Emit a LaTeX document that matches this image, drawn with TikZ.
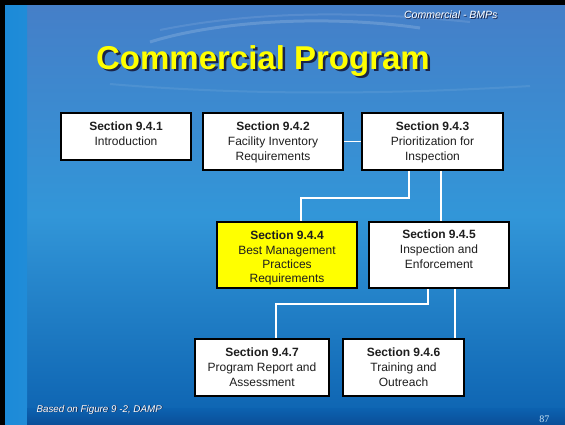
\documentclass[tikz,border=0pt]{standalone}
\usepackage{fontspec}
\setmainfont{Liberation Sans}
\newfontfamily\serifnum{Liberation Serif}
\usetikzlibrary{calc}
\definecolor{bgtop}{HTML}{457FC8}
\definecolor{bgmid}{HTML}{3296D8}
\definecolor{bgbot}{HTML}{0C62B0}
\definecolor{stripc}{HTML}{1C8AD8}
\definecolor{bandc}{HTML}{0A4E98}
\definecolor{titleyel}{HTML}{FFFF00}
\definecolor{shadowc}{HTML}{1A2448}
\definecolor{boxyel}{HTML}{FFFF00}
\definecolor{boxtext}{HTML}{1E1E1E}
\newcommand{\shadowtext}[3]{\makebox[0pt][l]{\raisebox{-#1}{\hspace{#1}\textcolor{shadowc}{#3}}}\textcolor{#2}{#3}}
\tikzset{
  secbox/.style={draw=black, line width=2pt, fill=white, inner sep=0pt},
  sectext/.style={align=center, text=boxtext, font=\fontsize{12}{14.8}\selectfont, inner sep=0pt, anchor=north},
  conn/.style={draw=white, line width=1.6pt},
}
\begin{document}
\begin{tikzpicture}[x=1pt,y=-1pt]
\useasboundingbox (0,0) rectangle (565,425);
% background
\fill[black] (0,0) rectangle (565,425);
\shade[top color=bgtop, bottom color=bgbot, middle color=bgmid] (5,6) rectangle (565,425);
\shade[left color=stripc, right color=stripc!80!bgmid] (5,6) rectangle (27,425);
\shade[top color=bgbot, bottom color=bandc] (27,408) rectangle (565,425);
\draw[white, opacity=0.16, line width=3pt] (150,42) .. controls (220,20) and (330,15) .. (420,28);
\draw[white, opacity=0.10, line width=2pt] (160,30) .. controls (250,12) and (350,10) .. (470,22);
\draw[white, opacity=0.08, line width=2pt] (110,84) .. controls (250,96) and (400,94) .. (530,86);
% header texts
\node[font=\fontsize{10.5}{12}\selectfont\itshape, anchor=east] (hdr) at (501,15) {\shadowtext{0.8pt}{white}{Commercial - BMPs}};
\node[font=\fontsize{33}{38}\selectfont\bfseries] (title) at (263,62) {\shadowtext{2.5pt}{titleyel}{Commercial Program}};
% boxes
\node[secbox, minimum width=130pt, minimum height=47pt,
  label={[sectext, yshift=-10pt]north:{\textbf{Section 9.4.1}\\Introduction}}] (n1) at (126,136.5) {};
\node[secbox, minimum width=140pt, minimum height=57pt,
  label={[sectext, yshift=-10pt]north:{\textbf{Section 9.4.2}\\Facility Inventory\\Requirements}}] (n2) at (273,141.5) {};
\node[secbox, minimum width=141pt, minimum height=57pt,
  label={[sectext, yshift=-10pt]north:{\textbf{Section 9.4.3}\\Prioritization for\\Inspection}}] (n3) at (432.5,141.5) {};
\node[secbox, fill=boxyel, minimum width=140pt, minimum height=66pt,
  label={[sectext, font=\fontsize{12}{14.3}\selectfont, yshift=-10pt]north:{\textbf{Section 9.4.4}\\Best Management\\Practices\\Requirements}}] (n4) at (287,255) {};
\node[secbox, minimum width=140pt, minimum height=66pt,
  label={[sectext, yshift=-9pt]north:{\textbf{Section 9.4.5}\\Inspection and\\Enforcement}}] (n5) at (439,255) {};
\node[secbox, minimum width=134pt, minimum height=57pt,
  label={[sectext, yshift=-10pt]north:{\textbf{Section 9.4.7}\\Program Report and\\Assessment}}] (n7) at (262,367.5) {};
\node[secbox, minimum width=121pt, minimum height=57pt,
  label={[sectext, yshift=-10pt]north:{\textbf{Section 9.4.6}\\Training and\\Outreach}}] (n6) at (403.5,367.5) {};
% connectors
\coordinate (j1a) at (409,198);
\coordinate (j1b) at (301,198);
\coordinate (j2a) at (428,304);
\coordinate (j2b) at (276,304);
\path[conn] (n2.east) -- (n3.west);
\path[conn] (n3.south -| j1a) -- (j1a) -- (j1b) -- (n4.north -| j1b);
\path[conn] ($(n3.south)+(8.5,0)$) -- ($(n5.north)+(2,0)$);
\path[conn] (n5.south -| j2a) -- (j2a) -- (j2b) -- (n7.north -| j2b);
\path[conn] ($(n5.south)+(16,0)$) -- ($(n6.north)+(51.5,0)$);
% footer
\node[font=\fontsize{9.8}{11}\selectfont\itshape, anchor=west] (foot) at (33,410) {\shadowtext{0.8pt}{white}{Based on Figure 9 -2, DAMP}};
\node[text=white!75!bgmid, font=\fontsize{10}{11}\selectfont\serifnum, anchor=east] (pg) at (553,419) {87};
\end{tikzpicture}
\end{document}
